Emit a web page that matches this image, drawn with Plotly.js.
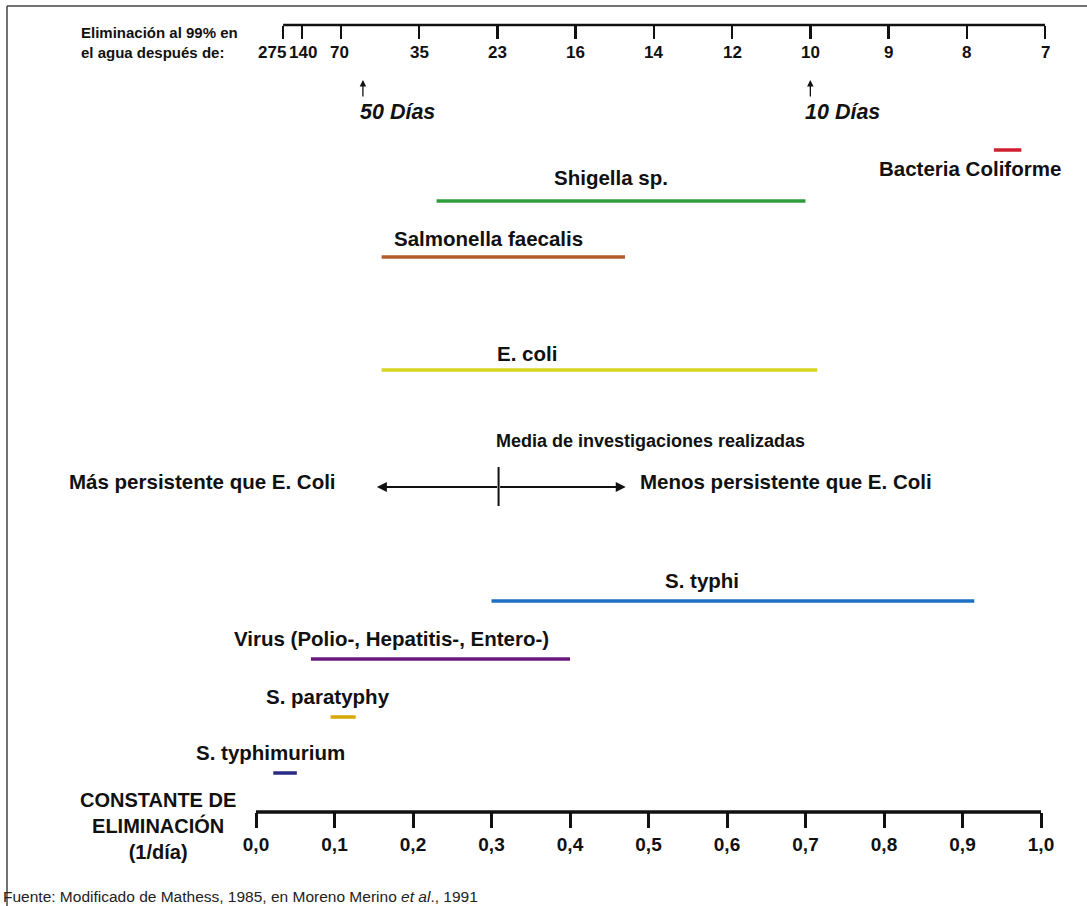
<!DOCTYPE html>
<html>
<head>
<meta charset="utf-8">
<script src="https://cdn.plot.ly/plotly-3.0.1.min.js"></script>
<style>html,body{margin:0;padding:0;background:#fff;}#chart{width:1087px;height:906px;}</style>
</head>
<body>
<div id="chart"></div>
<script>
// ---------------- DATA ----------------
const organisms = ["Bacteria Coliforme", "Shigella sp.", "Salmonella faecalis", "E. coli",
                   "S. typhi", "Virus (Polio-, Hepatitis-, Entero-)", "S. paratyphy", "S. typhimurium"];
const kLow  = [0.94, 0.23, 0.16, 0.16, 0.30, 0.07, 0.095, 0.022];   // 1/día
const kHigh = [0.975, 0.70, 0.47, 0.715, 0.915, 0.40, 0.127, 0.052];
const meanK = 0.309;                       // media de investigaciones realizadas
const arrowRange = [0.154, 0.471];         // extent of the persistence arrows
const bottomTicks = [0, 0.1, 0.2, 0.3, 0.4, 0.5, 0.6, 0.7, 0.8, 0.9, 1.0];
const bottomLabels = ["0,0","0,1","0,2","0,3","0,4","0,5","0,6","0,7","0,8","0,9","1,0"];
const topTickPos = [0.026, 0.050, 0.1, 0.2, 0.3, 0.4, 0.5, 0.6, 0.7, 0.8, 0.9, 1.0];
const topLabels = ["275","140","70","35","23","16","14","12","10","9","8","7"];
const dayMarks = [0.128, 0.7];
const dayMarkLabels = ["50 Días", "10 Días"];

// ---------------- LAYOUT / STYLE ----------------
const W = 1087, H = 906;
const PX = p => p / W;
const PY = p => 1 - p / H;
const FONT = "Liberation Sans, Arial, Helvetica, sans-serif";
const INK = "#111111";
const colors = ["#d21f2f", "#2f9e3a", "#b55a2e", "#d6d41e", "#1c6fc2", "#6b1a7c", "#d8a800", "#2b2a84"];
const rowY = [150, 201, 257, 370, 601, 659, 717, 773];       // vertical placement of each row
const labelX = [0.91, 0.452, 0.296, 0.345, 0.568, 0.173, 0.092, 0.018];
const labelShift = [-18, 24, 19, 17, 21, 21, 21, 21];
const meanRowY = 487;
const topLabelShift = [-11, 1, -2, 0, 0, 0, 0, 0, 0, 0, 0, 0];

const traces = organisms.map((name, i) => ({
  type: "scatter", mode: "lines", name: name,
  x: [kLow[i], kHigh[i]], y: [rowY[i], rowY[i]],
  xaxis: "x", yaxis: "y",
  line: {color: colors[i], width: 3.5},
  hoverinfo: "skip", showlegend: false
}));
// carrier trace for the top (days) axis
traces.push({type: "scatter", mode: "markers", x: topTickPos, y: topTickPos.map(() => 0.5),
  xaxis: "x2", yaxis: "y2", marker: {opacity: 0}, hoverinfo: "skip", showlegend: false});

const annotations = [];
organisms.forEach((name, i) => {
  annotations.push({x: labelX[i], y: rowY[i], xref: "x", yref: "y", yshift: labelShift[i],
    text: name, showarrow: false, xanchor: "center", yanchor: "middle",
    font: {family: FONT, size: 20.5, color: INK, weight: "bold"}});
});
// top axis tick labels
topLabels.forEach((t, i) => {
  annotations.push({x: topTickPos[i], y: PY(53), xref: "x2", yref: "paper", xshift: topLabelShift[i],
    text: t, showarrow: false, xanchor: "center", yanchor: "middle",
    font: {family: FONT, size: 17, color: INK, weight: "bold"}});
});
// day marks
dayMarks.forEach((d, i) => {
  annotations.push({x: d, y: PY(80), xref: "x2", yref: "paper", ax: 0, ay: 18,
    text: "", showarrow: true, arrowhead: 2, arrowsize: 1, arrowwidth: 1.3, arrowcolor: INK});
});
const txt = (x, y, text, size, extra) => Object.assign({x: PX(x), y: PY(y), xref: "paper", yref: "paper",
  xanchor: "center", yanchor: "middle", text: text, showarrow: false,
  font: {family: FONT, size: size, color: INK, weight: "bold"}}, extra || {});
annotations.push(txt(397, 112, "<i>" + dayMarkLabels[0] + "</i>", 21.5));
annotations.push(txt(842, 112, "<i>" + dayMarkLabels[1] + "</i>", 21.5));
// top-left axis title
annotations.push(txt(79, 33, "Eliminación al 99% en", 15, {xanchor: "left"}));
annotations.push(txt(79, 53, "el agua después de:", 15, {xanchor: "left"}));
// bottom axis title
annotations.push(txt(158, 826, "CONSTANTE DE<br>ELIMINACIÓN<br>(1/día)", 20, {align: "center"}));
// mean / persistence
annotations.push(txt(650, 441, "Media de investigaciones realizadas", 18));
annotations.push(txt(202, 481, "Más persistente que E. Coli", 20.5));
annotations.push(txt(786, 481, "Menos persistente que E. Coli", 20.5));
arrowRange.forEach(a => {
  annotations.push({x: a, y: meanRowY, xref: "x", yref: "y", ax: meanK, ay: meanRowY, axref: "x", ayref: "y",
    text: "", showarrow: true, arrowhead: 2, arrowsize: 1, arrowwidth: 2, arrowcolor: INK, standoff: 0});
});
// source
annotations.push({x: PX(1), y: PY(896), xref: "paper", yref: "paper", xanchor: "left", yanchor: "middle",
  text: "Fuente: Modificado de Mathess, 1985, en Moreno Merino <i>et al</i>., 1991", showarrow: false,
  font: {family: FONT, size: 15.5, color: "#222"}});

const shapes = [
  // bottom axis line
  {type: "line", xref: "x", yref: "y domain", x0: 0, x1: 1, y0: 0, y1: 0, line: {color: INK, width: 3.5}},
  // top axis line
  {type: "line", xref: "x2", yref: "y2 domain", x0: topTickPos[0], x1: 1, y0: 0, y1: 0, line: {color: INK, width: 2.5}},
  // mean marker
  {type: "line", xref: "x", yref: "y", x0: meanK, x1: meanK, y0: meanRowY - 20, y1: meanRowY + 19, line: {color: INK, width: 2}},
  // frame
  {type: "line", xref: "paper", yref: "paper", x0: PX(7), x1: PX(7), y0: PY(6), y1: PY(906), line: {color: "#444", width: 1.5}},
  {type: "line", xref: "paper", yref: "paper", x0: PX(7), x1: 1, y0: PY(6), y1: PY(6), line: {color: "#444", width: 1.5}}
];

const layout = {
  width: W, height: H,
  margin: {l: 0, r: 0, t: 0, b: 0},
  paper_bgcolor: "#ffffff", plot_bgcolor: "#ffffff",
  showlegend: false,
  xaxis: {domain: [PX(256), PX(1041)], range: [0, 1], anchor: "y",
    tickmode: "array", tickvals: bottomTicks, ticktext: bottomLabels,
    ticks: "outside", ticklen: 15, tickwidth: 3, tickcolor: INK,
    showgrid: false, zeroline: false, showline: false, tickangle: 0,
    tickfont: {family: FONT, size: 19, color: INK, weight: "bold"}},
  yaxis: {domain: [1 - 812 / H, 1], range: [812, 0], visible: false, showgrid: false, zeroline: false},
  xaxis2: {domain: [PX(262.8), PX(1045)], range: [0, 1], anchor: "y2", side: "bottom",
    tickmode: "array", tickvals: topTickPos, showticklabels: false,
    ticks: "outside", ticklen: 13, tickwidth: 2.5, tickcolor: INK,
    showgrid: false, zeroline: false, showline: false},
  yaxis2: {domain: [1 - 25 / H, 1], range: [0, 1], visible: false, showgrid: false, zeroline: false},
  annotations: annotations,
  shapes: shapes
};

Plotly.newPlot("chart", traces, layout, {staticPlot: true, displayModeBar: false});
</script>
</body>
</html>
